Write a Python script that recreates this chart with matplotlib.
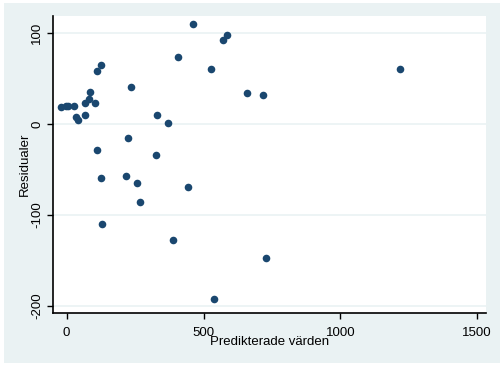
import matplotlib
matplotlib.use("Agg")
import matplotlib.pyplot as plt
from matplotlib.patches import Rectangle

# predicted values (x) and residuals (y)
predicted = [-21, -2, 5, 26, 33, 40, 67, 67, 81, 85, 103, 111, 125, 235, 330,
             370, 405, 460, 529, 572, 585, 658, 718, 1219, 224, 110, 326, 126,
             216, 257, 269, 129, 443, 388, 727, 538]
residuals = [19, 20, 20, 20, 8, 4, 10, 23, 27, 35, 23, 58, 65, 41, 10,
             1, 74, 110, 60, 92, 98, 34, 32, 60, -15, -29, -34, -59,
             -57, -65, -86, -110, -69, -128, -147, -192]

xticks = [0, 500, 1000, 1500]
yticks = [-200, -100, 0, 100]

bg = "#EAF2F3"
navy = "#1A476F"

plt.rcParams['font.family'] = ['Liberation Sans', 'DejaVu Sans']
plt.rcParams['axes.unicode_minus'] = False

fig = plt.figure(figsize=(5.04, 3.68), dpi=100, facecolor="white")
fig.patches.append(Rectangle((4/504, 1 - 363/368), 496/504, 360/368,
                             transform=fig.transFigure, facecolor=bg,
                             edgecolor="none", zorder=-10))

ax = fig.add_axes([53/504, 1 - 313/368, 433/504, 297/368])
ax.set_facecolor("white")
ax.scatter(predicted, residuals, s=30, color=navy, marker="o", zorder=3, linewidths=0)

ax.set_xlim(-50, 1532)
ax.set_ylim(-207.7, 118.7)
ax.set_xticks(xticks)
ax.set_yticks(yticks)
ax.yaxis.grid(True, color=bg, lw=1.2)
ax.set_axisbelow(True)

for s in ["top", "right"]:
    ax.spines[s].set_visible(False)
for s in ["left", "bottom"]:
    ax.spines[s].set_color("black")
    ax.spines[s].set_linewidth(1.2)

ax.tick_params(axis="both", length=4, width=1, color="black", labelsize=9.5)
ax.tick_params(axis="y", labelrotation=90, pad=3)
ax.tick_params(axis="x", pad=6)
for lab in ax.get_yticklabels():
    lab.set_va("center")

ax.set_xlabel("Predikterade värden", fontsize=9.5, va="center")
ax.xaxis.set_label_coords(0.5, -0.098)
ax.set_ylabel("Residualer", fontsize=9.5, va="center")
ax.yaxis.set_label_coords(-0.065, 0.5)

fig.savefig("out.png", dpi=100, facecolor="white")
